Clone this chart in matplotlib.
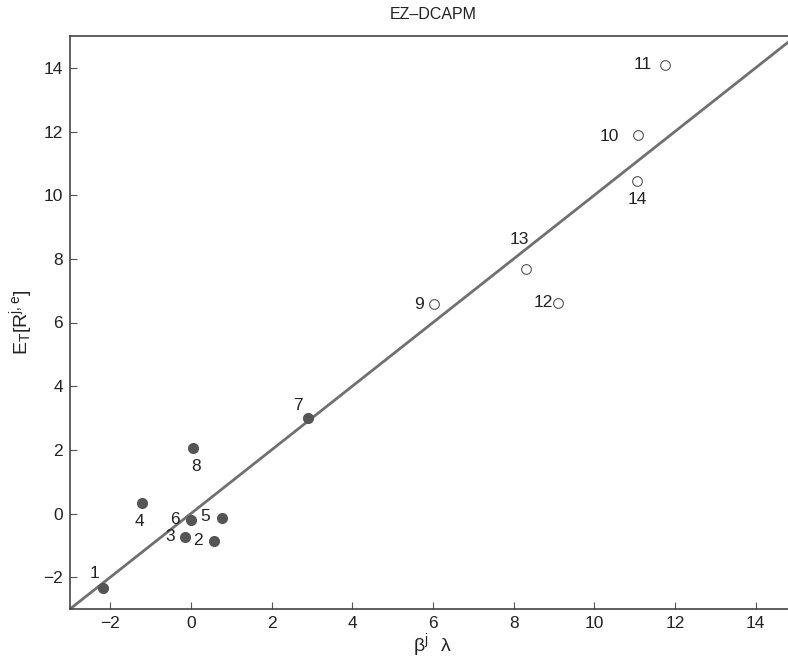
import matplotlib
matplotlib.use("Agg")
import matplotlib.pyplot as plt
import numpy as np

FONTS = ['Liberation Sans Narrow', 'Liberation Sans', 'DejaVu Sans']
plt.rcParams['font.family'] = FONTS
plt.rcParams['mathtext.fontset'] = 'custom'
plt.rcParams['mathtext.rm'] = 'Liberation Sans Narrow'
plt.rcParams['mathtext.it'] = 'Liberation Sans Narrow:italic'

# Data
labels_filled = ['1', '2', '3', '4', '5', '6', '7', '8']
x_filled = [-2.19, 0.57, -0.14, -1.21, 0.76, 0.00, 2.91, 0.05]
y_filled = [-2.33, -0.85, -0.73, 0.34, -0.13, -0.20, 3.00, 2.05]

labels_open = ['9', '10', '11', '12', '13', '14']
x_open = [6.03, 11.08, 11.75, 9.11, 8.30, 11.07]
y_open = [6.58, 11.88, 14.10, 6.60, 7.67, 10.43]

line_slope = 1.0
line_intercept = 0.0

xticks = [-2, 0, 2, 4, 6, 8, 10, 12, 14]
yticks = [-2, 0, 2, 4, 6, 8, 10, 12, 14]
title = 'EZ\u2013DCAPM'

# label offsets (pixels) for each point label
label_offsets = {
    '1': (-8, 14), '2': (-16, 0), '3': (-15, 0), '4': (-3, -19),
    '5': (-16, 1), '6': (-16, 0), '7': (-10, 13), '8': (3, -18),
    '9': (-15, 0), '10': (-29, -1), '11': (-22, 0), '12': (-15, 1),
    '13': (-6, 30), '14': (0, -18),
}

fig = plt.figure(figsize=(7.88, 6.58), dpi=100)
ax = fig.add_axes([70/788, (658-609)/658, 726/788, 573/658])

xl = np.array([-3, 15])
ax.plot(xl, line_slope*xl + line_intercept, color='#707070', lw=2.0, zorder=1)

ax.plot(x_filled, y_filled, 'o', ms=7.0, mfc='#555555', mec='#555555', zorder=3)
ax.plot(x_open, y_open, 'o', ms=7, mfc='white', mec='#555555', mew=0.8, zorder=3)

for lab, x, y in zip(labels_filled + labels_open, x_filled + x_open, y_filled + y_open):
    dx, dy = label_offsets[lab]
    ax.annotate(lab, (x, y), xytext=(dx, dy), textcoords='offset pixels',
                ha='center', va='center', fontsize=12.5, color='#222222')

ax.set_xlim(-3, 15)
ax.set_ylim(-3, 15)
ax.set_xticks(xticks)
ax.set_yticks(yticks)
ax.set_xticklabels([('\u2212%d' % -t) if t < 0 else str(t) for t in xticks])
ax.set_yticklabels([('\u2212%d' % -t) if t < 0 else str(t) for t in yticks])
ax.tick_params(direction='in', length=5, width=0.8, color='#555555',
               labelsize=12.5, labelcolor='#222222', pad=5)
for sp in ax.spines.values():
    sp.set_color('#444444')
    sp.set_linewidth(1.2)

ax.set_title(title, fontsize=11.5, color='#222222', pad=12)
ax.set_xlabel(r'$\mathregular{\beta^j\ \ \lambda}$', fontsize=14, color='#222222', labelpad=0)
ax.set_ylabel(r'$\mathregular{E_T[R^{j,e}]}$', fontsize=14, color='#222222', labelpad=6)

fig.savefig('out.png', dpi=100)
